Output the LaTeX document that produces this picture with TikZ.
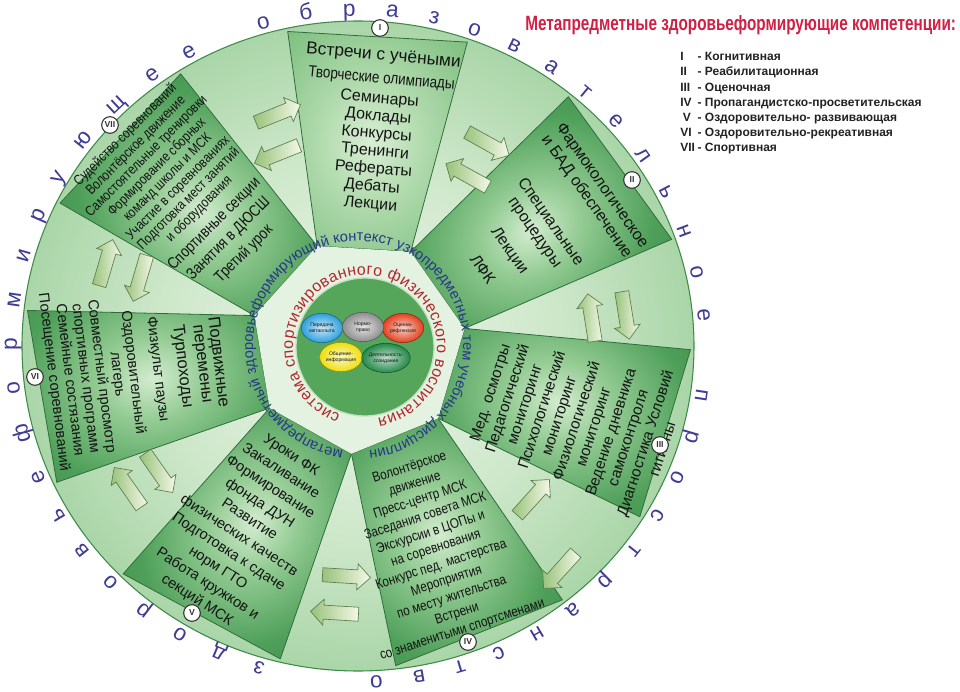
\documentclass[tikz,border=0pt]{standalone}
\usepackage{fontspec}
\setmainfont{Liberation Sans}
\newfontfamily\narrowf[FakeStretch=0.84]{Liberation Sans}
\newfontfamily\titlef[FakeStretch=0.74]{Liberation Sans}
\usetikzlibrary{shapes.arrows,shapes.geometric,decorations.text,calc}

\definecolor{wc0}{HTML}{EEF7EC}
\definecolor{wc1}{HTML}{CDE7C9}
\definecolor{wc2}{HTML}{98CD98}
\definecolor{wc3}{HTML}{66B06E}
\definecolor{wc4}{HTML}{4E9D58}
\definecolor{pc0}{HTML}{D3ECCF}
\definecolor{pc1}{HTML}{93CB93}
\definecolor{pc2}{HTML}{4E9F59}
\definecolor{pc3}{HTML}{3C8A48}
\definecolor{qc0}{HTML}{D8EED3}
\definecolor{qc1}{HTML}{B2DBAE}
\definecolor{qc2}{HTML}{86C387}
\definecolor{qc3}{HTML}{5FA96A}
\definecolor{edge}{HTML}{2F6E3A}
\definecolor{rimedge}{HTML}{3E8A48}
\definecolor{hepta}{HTML}{E4F2E1}
\definecolor{hubgreen}{HTML}{55A65A}
\definecolor{hubedge}{HTML}{C3E2C0}
\definecolor{ink}{HTML}{141414}
\definecolor{bluetxt}{HTML}{27378A}
\definecolor{redtxt}{HTML}{B3282D}
\definecolor{outertxt}{HTML}{3F3C93}
\definecolor{titlered}{HTML}{D21F43}
\definecolor{legendink}{HTML}{222222}
\definecolor{badgeedge}{HTML}{333333}
\definecolor{arrowedge}{HTML}{5D7D50}
\definecolor{arrowtail}{HTML}{98C27A}
\definecolor{arrowtip}{HTML}{F4F8E8}
\definecolor{bblue}{HTML}{2E9FDE}
\definecolor{bgray}{HTML}{8E8E8E}
\definecolor{bred}{HTML}{E2401F}
\definecolor{byellow}{HTML}{EEDF10}
\definecolor{bgreen}{HTML}{24894A}

\pgfdeclareradialshading{wheelsh}{\pgfpoint{0bp}{0bp}}{color(0bp)=(wc0); color(15bp)=(wc1); color(30bp)=(wc2); color(43bp)=(wc3); color(46bp)=(wc4); color(50bp)=(wc4)}
\pgfdeclareradialshading{panelsh}{\pgfpoint{0bp}{0bp}}{color(0bp)=(pc0); color(12bp)=(pc1); color(30bp)=(pc2); color(50bp)=(pc3)}
\pgfdeclareradialshading{panelshI}{\pgfpoint{0bp}{0bp}}{color(0bp)=(qc0); color(14bp)=(qc1); color(32bp)=(qc2); color(50bp)=(qc3)}

\tikzset{
 ptext/.style={align=center, text=ink, inner sep=0pt},
 badge/.style={circle, draw=badgeedge, line width=0.8pt, fill=white, minimum size=12.5pt, inner sep=0pt, font=\fontsize{6.5}{7}\selectfont\bfseries, text=badgeedge},
 blk/.style={single arrow, draw=arrowedge, line width=0.5pt, left color=arrowtail, right color=arrowtip, minimum height=36pt, minimum width=19pt, single arrow head extend=4.5pt, inner sep=0pt},
 bubble/.style={ellipse, minimum width=31pt, minimum height=22pt, inner sep=0pt, align=center, font=\fontsize{3.8}{4.2}\selectfont, text=ink, shading=radial, line width=0.4pt},
 legend/.style={anchor=base west, inner sep=0pt, font=\fontsize{9}{10}\selectfont\bfseries, text=legendink},
}
\newcommand{\shaft}{\rule{0pt}{10pt}}

\begin{document}
\begin{tikzpicture}[x=0.75pt,y=0.75pt]
\fill[white] (-358,-346) rectangle (602,346);
\useasboundingbox (-358,-346) rectangle (602,346);

% wheel
\shadedraw[shading=wheelsh, draw=rimedge, line width=0.8pt] (0,0) ellipse[x radius=336, y radius=325];

% panels
\foreach \k in {0,...,6}{
  \pgfmathsetmacro\th{86.5-51.4286*\k}
  \pgfmathsetmacro\rot{\th-90}
  \pgfmathsetmacro\b{90-\th}
  \pgfmathsetmacro\gxa{332.6*cos(\th+15.7)}
  \pgfmathsetmacro\gya{321.8*sin(\th+15.7)}
  \pgfmathsetmacro\gxb{332.6*cos(\th-15.7)}
  \pgfmathsetmacro\gyb{321.8*sin(\th-15.7)}
  \pgfmathsetmacro\lxa{\gxa*cos(\b)-\gya*sin(\b)}
  \pgfmathsetmacro\lya{\gxa*sin(\b)+\gya*cos(\b)}
  \pgfmathsetmacro\lxb{\gxb*cos(\b)-\gyb*sin(\b)}
  \pgfmathsetmacro\lyb{\gxb*sin(\b)+\gyb*cos(\b)}
  \ifnum\k=0 \def\psh{panelshI}\else\def\psh{panelsh}\fi
  \begin{scope}[transform canvas={rotate=\rot}]
    \shadedraw[shading=\psh, draw=edge, line width=0.6pt] (-46.85,97.31) -- (\lxa,\lya) -- (\lxb,\lyb) -- (46.85,97.31) -- cycle;
  \end{scope}
}

% central heptagon and hub
\fill[hepta] (112.21:108) \foreach \i in {1,...,6}{ -- ({112.21-51.4286*\i}:108)} -- cycle;
\draw[fill=hubgreen, draw=hubedge, line width=1pt] (7,-1) circle[radius=69];

% ring texts
\path[decorate, decoration={text along path, text={|\fontsize{12}{13}\selectfont|система спортизированного физического воспитания}, text align={fit to path}, text color=redtxt}]
  ($(7,-1)+(250:72)$) arc[start angle=250, end angle=-80, radius=72];
\path[decorate, decoration={text along path, text={|\fontsize{11}{12}\selectfont|метапредметный здоровьеформирующий контекст узкопредметных тем учебных дисциплин}, text align={fit to path}, text color=bluetxt}]
  (262:105) arc[start angle=262, end angle=-84, radius=105];
\path[decorate, decoration={text along path, text={|\fontsize{17}{18}\selectfont|здоровьеформирующее образовательное пространство}, text align={fit to path}, text color=outertxt}]
  (-105.7:341 and 330) arc[start angle=-105.7, end angle=-448, x radius=341, y radius=330];

% bubbles
\node[bubble, inner color=bblue!25!white, outer color=bblue, draw=bblue!60!black] (pb) at (-36,18) {Передача\\метаопыта};
\node[bubble, inner color=bred!25!white, outer color=bred, draw=bred!60!black] (pr) at (45,18) {Оценка-\\рефлексия};
\node[bubble, inner color=bgray!25!white, outer color=bgray, draw=bgray!60!black] (pg) at (5,19) {Нормо-\\право};
\node[bubble, inner color=byellow!25!white, outer color=byellow, draw=byellow!60!black] (py) at (-17,-11) {Общение-\\информация};
\node[bubble, inner color=bgreen!30!white, outer color=bgreen, draw=bgreen!60!black] (pe) at (28,-12) {Деятельность-\\созидание};

% arrows in the wedges
\node[blk, rotate=22] (a1o) at (-83,231) {\shaft};
\node[blk, rotate=202] (a1i) at (-78,193) {\shaft};
\node[blk, rotate=-29] (a2o) at (127,204) {\shaft};
\node[blk, rotate=151] (a2i) at (112,169) {\shaft};
\node[blk, rotate=-81] (a3o) at (267,34) {\shaft};
\node[blk, rotate=99] (a3i) at (234,25) {\shaft};
\node[blk, rotate=-132] (a4o) at (204,-222) {\shaft};
\node[blk, rotate=48] (a4i) at (173,-154) {\shaft};
\node[blk, rotate=176.5] (a5o) at (-20,-267) {\shaft};
\node[blk, rotate=-3.5] (a5i) at (-15,-230) {\shaft};
\node[blk, rotate=125] (a6o) at (-228,-144) {\shaft};
\node[blk, rotate=-55] (a6i) at (-201,-124) {\shaft};
\node[blk, rotate=73.6] (a7o) at (-253,80) {\shaft};
\node[blk, rotate=-106.4] (a7i) at (-217,71) {\shaft};

% panel texts
\node[ptext, rotate=-5, font=\fontsize{12}{13.2}\selectfont] (t1) at (19,216)
 {{\fontsize{13}{14}\selectfont Встречи с учёными}\\[4pt]
  {\narrowf Творческие олимпиады}\\[2pt]
  Семинары\\ Доклады\\ Конкурсы\\ Тренинги\\ Рефераты\\ Дебаты\\ Лекции};
\node[ptext, rotate=-55, font=\fontsize{12}{14.3}\selectfont] (t2) at (185,119)
 {Фармокологическое\\ и БАД обеспечение\\[18.7pt] Специальные\\ процедуры\\[9pt] Лекции\\[10.8pt] ЛФК};
\node[ptext, rotate=72, font=\fontsize{11.5}{13.6}\selectfont] (t3) at (218,-75)
 {Мед. осмотры\\ Педагогический\\ мониторинг\\ Психологический\\ мониторинг\\ Физиологический\\ мониторинг\\ Ведение дневника\\ самоконтроля\\ Диагностика Условий\\ гигиены};
\node[ptext, rotate=18, font=\narrowf\fontsize{10.5}{12.8}\selectfont] (t4) at (78,-203)
 {Волонтёрское\\ движение\\ Пресс-центр МСК\\ Заседания совета МСК\\ Экскурсии в ЦОПы и\\ на соревнования\\ Конкурс пед. мастерства\\ Мероприятия\\ по месту жительства\\ Встрени\\ со знаменитыми спортсменами};
\node[ptext, rotate=-33, font=\fontsize{11}{14.4}\selectfont] (t5) at (-114,-182)
 {Уроки ФК\\ Закаливание\\ Формирование\\ фонда ДУН\\ Развитие\\ физических качеств\\ Подготовка к сдаче\\ норм ГТО\\ Работа кружков и\\ секций МСК};
\node[ptext, rotate=-83, font=\fontsize{11}{12}\selectfont] (t6) at (-222,-26)
 {{\fontsize{12.5}{13}\selectfont Подвижные}\\ {\fontsize{12.5}{13}\selectfont перемены}\\[3pt]
  {\fontsize{12.5}{13}\selectfont Турпоходы}\\[6.5pt] Физкульт паузы\\[6.5pt] Оздоровительный\\ лагерь\\ Совместный просмотр\\ спортивных программ\\ Семейные состязания\\ Посещение соревнований};
\node[ptext, rotate=45, font=\narrowf\fontsize{10.5}{11.2}\selectfont] (t7) at (-173,151)
 {Судейство соревнований\\ Волонтёрское движение\\ Самостоятельные тренировки\\ Формирование сборных\\ команд школы и МСК\\ Участие в соревнованиях\\ Подготовка мест занятий\\ и оборудования\\[5pt]
  {\fontsize{12}{13}\selectfont Спортивные секции}\\[4pt] {\fontsize{12}{13}\selectfont Занятия в ДЮСШ}\\[4pt] {\fontsize{12}{13}\selectfont Третий урок}};

% badges
\node[badge] (b1) at (22,318) {I};
\node[badge] (b2) at (274,166) {II};
\node[badge] (b3) at (302,-99) {III};
\node[badge] (b4) at (110,-296) {IV};
\node[badge] (b5) at (-166,-267) {V};
\node[badge] (b6) at (-323,-31) {VI};
\node[badge] (b7) at (-248,221) {VII};

% legend
\node[anchor=base west, inner sep=0pt, text=titlered, font=\titlef\bfseries\fontsize{15.5}{16}\selectfont] (title) at (167,315) {Метапредметные здоровьеформирующие компетенции:};
\node[legend] (l1) at (322,285) {\makebox[13pt][l]{I}- Когнитивная};
\node[legend] (l2) at (322,270) {\makebox[13pt][l]{II}- Реабилитационная};
\node[legend] (l3) at (322,254) {\makebox[13pt][l]{III}- Оценочная};
\node[legend] (l4) at (322,239) {\makebox[13pt][l]{IV}- Пропагандистско-просветительская};
\node[legend] (l5) at (322,224) {\makebox[13pt][l]{\hspace{2pt}V}- Оздоровительно- развивающая};
\node[legend] (l6) at (322,209) {\makebox[13pt][l]{VI}- Оздоровительно-рекреативная};
\node[legend] (l7) at (322,194) {\makebox[13pt][l]{VII}- Спортивная};
\end{tikzpicture}
\end{document}
